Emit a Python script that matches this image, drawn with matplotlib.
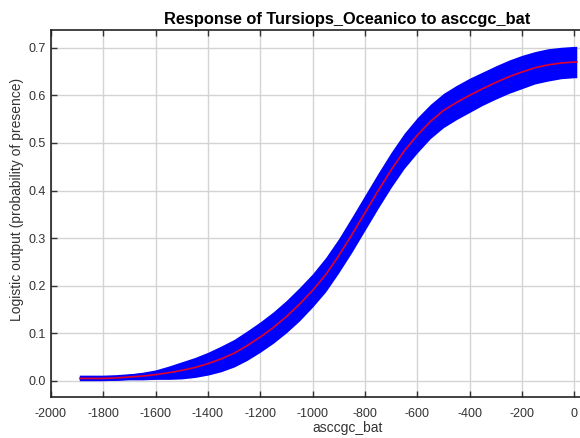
import matplotlib
matplotlib.use('Agg')
import matplotlib.pyplot as plt

plt.rcParams['font.family'] = ['Liberation Sans', 'DejaVu Sans']
plt.rcParams['axes.unicode_minus'] = False

# response curve (mean) and +/- sd
bat = [-1890, -1800, -1750, -1700, -1650, -1600, -1550, -1500, -1450, -1400,
       -1350, -1300, -1250, -1200, -1150, -1100, -1050, -1000, -950, -900,
       -850, -800, -750, -700, -650, -600, -550, -500, -450, -400,
       -350, -300, -250, -200, -150, -100, -50, 0, 10]
mean = [0.005, 0.005, 0.006, 0.008, 0.010, 0.013, 0.017, 0.022, 0.028, 0.036,
        0.046, 0.058, 0.074, 0.092, 0.112, 0.135, 0.161, 0.190, 0.223, 0.263,
        0.307, 0.353, 0.399, 0.443, 0.483, 0.516, 0.545, 0.568, 0.585, 0.600,
        0.614, 0.627, 0.639, 0.649, 0.658, 0.664, 0.668, 0.670, 0.670]
sd = [0.003, 0.004, 0.005, 0.006, 0.008, 0.010, 0.014, 0.018, 0.021, 0.024,
      0.027, 0.029, 0.031, 0.032, 0.033, 0.034, 0.035, 0.035, 0.036, 0.036,
      0.037, 0.037, 0.037, 0.037, 0.037, 0.037, 0.036, 0.036, 0.036, 0.036,
      0.035, 0.035, 0.035, 0.035, 0.034, 0.034, 0.033, 0.033, 0.033]

xticks = list(range(-2000, 1, 200))
yticks = [0.0, 0.1, 0.2, 0.3, 0.4, 0.5, 0.6, 0.7]

fig = plt.figure(figsize=(5.8, 4.38), dpi=100)
# axes runs past the right edge, the original is cropped there
ax = fig.add_axes([51 / 580, (438 - 396.5) / 438, 593 / 580, (396.5 - 29.7) / 438])

lo = [m - s for m, s in zip(mean, sd)]
hi = [m + s for m, s in zip(mean, sd)]
ax.fill_between(bat, lo, hi, color='#0000ff', lw=0, zorder=2)
ax.plot(bat, mean, color='#0000ff', lw=4, solid_capstyle='butt', zorder=2)
ax.plot(bat, mean, color='#e0002a', lw=1.2, zorder=3)

ax.set_xlim(-2000, 267)
ax.set_ylim(-0.033, 0.738)
ax.set_xticks(xticks)
ax.set_yticks(yticks)
ax.set_yticklabels(['%.1f' % v for v in yticks])
ax.grid(True, color='#d4d4d4', lw=1)
ax.set_axisbelow(True)
ax.tick_params(direction='in', length=4, labelsize=9, colors='#333333',
               top=True, width=1)
ax.tick_params(axis='x', pad=8)
for s in ax.spines.values():
    s.set_color('#222222')
    s.set_linewidth(1.2)

ax.set_title('Response of Tursiops_Oceanico to asccgc_bat', fontsize=11.8,
             fontweight='bold', pad=4)
ax.set_xlabel('asccgc_bat', fontsize=10, color='#333333', labelpad=1)
ax.set_ylabel('Logistic output (probability of presence)', fontsize=10,
              color='#333333')
ax.yaxis.set_label_coords(-0.046, 0.536)

plt.savefig('out.png', format='png', dpi=100)
